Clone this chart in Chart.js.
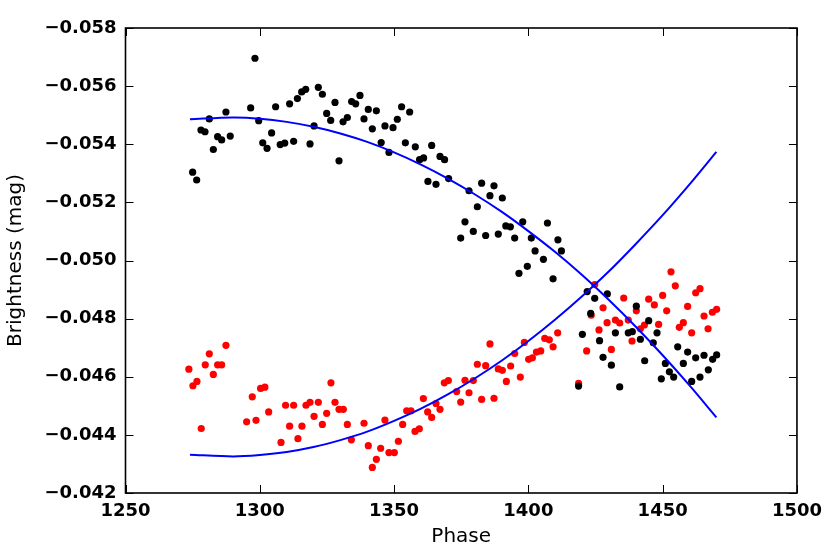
<!DOCTYPE html>
<html>
<head>
<meta charset="utf-8">
<script src="https://cdn.jsdelivr.net/npm/chart.js@4.4.1/dist/chart.umd.min.js"></script>
<style>
  html, body { margin: 0; padding: 0; background: #fff; }
  #wrap { width: 830px; height: 554px; }
</style>
</head>
<body>
<div id="wrap"><canvas id="c" width="830" height="554"></canvas></div>
<script>
const blackPhase = [1275.0,1276.5,1278.1,1279.6,1281.2,1282.7,1284.3,1285.8,1287.4,1289.0,1296.6,1298.2,1299.6,1301.1,1302.7,1304.4,1305.9,1307.6,1309.3,1311.1,1312.6,1314.0,1315.6,1317.1,1318.7,1320.2,1321.8,1323.3,1324.9,1326.4,1328.0,1329.5,1331.0,1332.6,1334.2,1335.7,1337.3,1338.8,1340.4,1341.9,1343.4,1345.2,1346.6,1348.1,1349.6,1351.2,1352.8,1354.2,1355.8,1357.9,1359.5,1361.0,1362.6,1364.0,1365.6,1367.1,1368.8,1370.3,1374.8,1376.4,1377.9,1379.5,1381.0,1382.6,1384.1,1385.7,1387.2,1388.8,1390.3,1391.6,1393.3,1394.9,1396.5,1397.9,1399.6,1401.1,1402.5,1405.6,1407.1,1409.2,1411.0,1412.3,1418.7,1420.1,1421.9,1423.2,1424.7,1426.5,1427.8,1429.4,1430.9,1432.4,1434.0,1437.2,1438.7,1440.2,1441.7,1443.3,1444.8,1446.5,1447.9,1449.5,1451.0,1452.5,1454.1,1455.6,1457.7,1459.3,1460.8,1462.3,1463.9,1465.4,1467.0,1468.6,1470.1];
const blackMag = [-0.05304,-0.05277,-0.05449,-0.05443,-0.05487,-0.05382,-0.05426,-0.05415,-0.05511,-0.05428,-0.05525,-0.05696,-0.05481,-0.05405,-0.05386,-0.05439,-0.05529,-0.05399,-0.05404,-0.05539,-0.05410,-0.05557,-0.05580,-0.05589,-0.05401,-0.05463,-0.05596,-0.05572,-0.05506,-0.05482,-0.05544,-0.05343,-0.05477,-0.05492,-0.05547,-0.05539,-0.05568,-0.05487,-0.05520,-0.05453,-0.05515,-0.05406,-0.05463,-0.05372,-0.05457,-0.05486,-0.05529,-0.05405,-0.05511,-0.05391,-0.05347,-0.05353,-0.05272,-0.05396,-0.05262,-0.05358,-0.05347,-0.05282,-0.05077,-0.05133,-0.05240,-0.05100,-0.05185,-0.05266,-0.05086,-0.05223,-0.05257,-0.05091,-0.05215,-0.05119,-0.05116,-0.05077,-0.04956,-0.05133,-0.04980,-0.05077,-0.05033,-0.05004,-0.05129,-0.04937,-0.05071,-0.05033,-0.04568,-0.04746,-0.04893,-0.04818,-0.04870,-0.04724,-0.04667,-0.04885,-0.04640,-0.04751,-0.04565,-0.04751,-0.04755,-0.04843,-0.04729,-0.04655,-0.04793,-0.04717,-0.04751,-0.04593,-0.04646,-0.04617,-0.04599,-0.04703,-0.04646,-0.04685,-0.04584,-0.04665,-0.04599,-0.04674,-0.04624,-0.04660,-0.04675];

const redPhase = [1273.6,1275.1,1276.6,1278.2,1279.7,1281.2,1282.7,1284.3,1285.8,1287.4,1295.1,1297.2,1298.6,1300.3,1301.9,1303.3,1307.9,1309.6,1311.1,1312.6,1314.2,1315.7,1317.2,1318.7,1320.2,1321.8,1323.3,1324.9,1326.5,1328.0,1329.5,1331.1,1332.6,1334.1,1338.8,1340.4,1341.9,1343.4,1345.0,1346.6,1348.1,1350.1,1351.6,1353.2,1354.7,1356.3,1357.8,1359.4,1360.9,1362.5,1364.0,1365.6,1367.1,1368.7,1370.2,1373.3,1374.8,1376.4,1377.9,1379.5,1381.0,1382.6,1384.1,1385.7,1387.2,1388.8,1390.3,1391.8,1393.4,1394.9,1397.0,1398.5,1400.1,1401.5,1403.0,1404.6,1406.1,1407.8,1409.2,1410.9,1418.7,1421.7,1423.4,1424.7,1426.3,1427.8,1429.3,1430.9,1432.4,1434.0,1435.5,1437.2,1438.6,1440.2,1441.7,1443.2,1444.8,1446.9,1448.5,1450.0,1451.5,1453.1,1454.7,1456.2,1457.7,1459.3,1460.8,1462.3,1463.9,1465.4,1466.9,1468.5,1470.1];
const redMag = [-0.04626,-0.04569,-0.04584,-0.04422,-0.04641,-0.04679,-0.04608,-0.04641,-0.04641,-0.04708,-0.04445,-0.04531,-0.04450,-0.04560,-0.04564,-0.04479,-0.04374,-0.04502,-0.04430,-0.04502,-0.04387,-0.04430,-0.04502,-0.04512,-0.04464,-0.04512,-0.04436,-0.04474,-0.04579,-0.04512,-0.04488,-0.04488,-0.04436,-0.04383,-0.04440,-0.04363,-0.04288,-0.04316,-0.04354,-0.04451,-0.04339,-0.04339,-0.04378,-0.04436,-0.04483,-0.04483,-0.04412,-0.04421,-0.04525,-0.04479,-0.04460,-0.04508,-0.04488,-0.04579,-0.04587,-0.04549,-0.04513,-0.04588,-0.04545,-0.04587,-0.04643,-0.04522,-0.04638,-0.04713,-0.04526,-0.04627,-0.04622,-0.04584,-0.04637,-0.04680,-0.04599,-0.04718,-0.04660,-0.04665,-0.04685,-0.04689,-0.04732,-0.04727,-0.04703,-0.04751,-0.04577,-0.04689,-0.04812,-0.04917,-0.04761,-0.04837,-0.04786,-0.04694,-0.04795,-0.04785,-0.04871,-0.04795,-0.04723,-0.04827,-0.04765,-0.04778,-0.04867,-0.04847,-0.04780,-0.04880,-0.04827,-0.04961,-0.04913,-0.04770,-0.04786,-0.04842,-0.04751,-0.04889,-0.04903,-0.04809,-0.04765,-0.04822,-0.04832];

const fitPhase = [1274,1290,1300,1310,1320,1330,1340,1350,1360,1370,1380,1390,1400,1410,1420,1430,1440,1450,1460,1470];
const fitBlack = [-0.05486,-0.05492,-0.05488,-0.05477,-0.05460,-0.05437,-0.05408,-0.05372,-0.05330,-0.05282,-0.05228,-0.05168,-0.05101,-0.05029,-0.04950,-0.04864,-0.04772,-0.04674,-0.04570,-0.04460];
const fitRed = [-0.04332,-0.04326,-0.04331,-0.04341,-0.04358,-0.04382,-0.04411,-0.04448,-0.04490,-0.04539,-0.04594,-0.04655,-0.04723,-0.04797,-0.04877,-0.04963,-0.05057,-0.05156,-0.05262,-0.05374];

const xTitle = "Phase";
const yTitle = "Brightness (mag)";

const pts = (xs, ys) => xs.map((v, i) => ({ x: v, y: ys[i] }));
const FONT = "'DejaVu Sans', sans-serif";

const frameTicks = {
  id: 'frameTicks',
  afterDraw(chart) {
    const ctx = chart.ctx;
    const { left, right, top, bottom } = chart.chartArea;
    const sx = chart.scales.x, sy = chart.scales.y;
    const L = 8;
    ctx.save();
    ctx.strokeStyle = '#000';
    ctx.lineWidth = 1;
    ctx.beginPath();
    sx.ticks.forEach(t => {
      const p = Math.round(sx.getPixelForValue(t.value)) + 0.5;
      ctx.moveTo(p, bottom); ctx.lineTo(p, bottom - L);
      ctx.moveTo(p, top); ctx.lineTo(p, top + L);
    });
    sy.ticks.forEach(t => {
      const p = Math.round(sy.getPixelForValue(t.value)) + 0.5;
      ctx.moveTo(left, p); ctx.lineTo(left + L, p);
      ctx.moveTo(right, p); ctx.lineTo(right - L, p);
    });
    ctx.stroke();
    ctx.lineWidth = 1.6;
    ctx.strokeRect(left, top, right - left, bottom - top);
    ctx.restore();
  }
};

new Chart(document.getElementById('c'), {
  type: 'scatter',
  data: {
    datasets: [
      { data: pts(fitPhase, fitBlack), showLine: true, borderColor: '#0000ff', borderWidth: 2, pointRadius: 0, tension: 0.3, fill: false, order: 0 },
      { data: pts(fitPhase, fitRed), showLine: true, borderColor: '#0000ff', borderWidth: 2, pointRadius: 0, tension: 0.3, fill: false, order: 0 },
      { data: pts(blackPhase, blackMag), backgroundColor: '#000000', borderWidth: 0, pointRadius: 3.6, order: 1 },
      { data: pts(redPhase, redMag), backgroundColor: '#ff0000', borderWidth: 0, pointRadius: 3.6, order: 2 }
    ]
  },
  options: {
    responsive: false,
    animation: false,
    devicePixelRatio: 1,
    layout: { padding: { top: 28, right: 32, left: 0, bottom: 0 } },
    plugins: { legend: { display: false }, tooltip: { enabled: false } },
    scales: {
      x: {
        type: 'linear', min: 1250, max: 1500,
        grid: { display: false, drawTicks: false },
        border: { display: false },
        ticks: { stepSize: 50, padding: 8, color: '#000', font: { family: FONT, size: 18, weight: 'bold' }, callback: v => String(v) },
        title: { display: true, text: xTitle, color: '#000', font: { family: FONT, size: 20 }, padding: { top: 0, bottom: 5 } },
        afterFit: s => { s.height = 61; }
      },
      y: {
        type: 'linear', min: -0.058, max: -0.042, reverse: true,
        grid: { display: false, drawTicks: false },
        border: { display: false },
        ticks: { stepSize: 0.002, padding: 9, color: '#000', font: { family: FONT, size: 18, weight: 'bold' }, callback: v => v.toFixed(3).replace('-', '\u2212') },
        title: { display: true, text: yTitle, color: '#000', font: { family: FONT, size: 20 }, padding: { top: 4, bottom: 0 } },
        afterFit: s => { s.width = 125.5; }
      }
    }
  },
  plugins: [frameTicks]
});
</script>
</body>
</html>
